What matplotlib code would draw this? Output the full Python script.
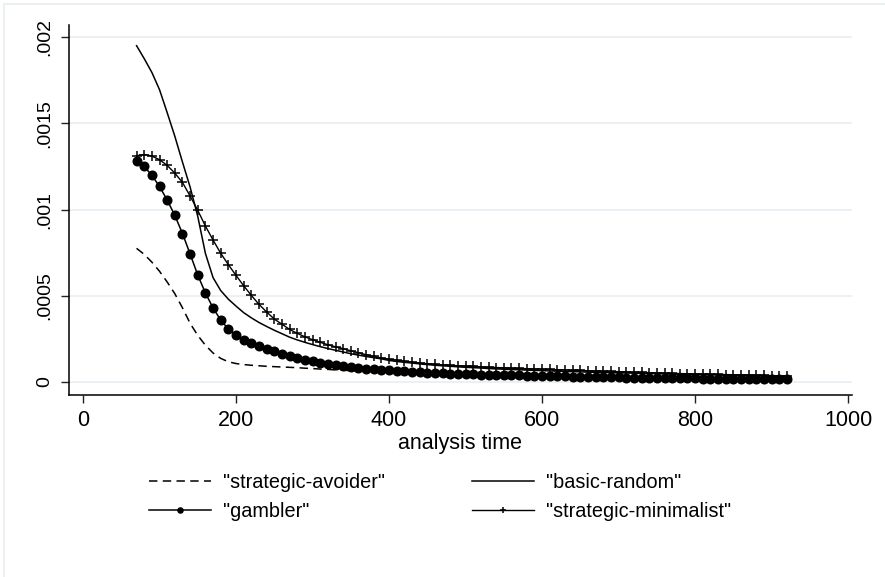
import matplotlib
matplotlib.use('Agg')
import matplotlib.pyplot as plt
from matplotlib.patches import Rectangle

plt.rcParams['font.family'] = ['Liberation Sans', 'DejaVu Sans']

# analysis time grid (one point every 10 units)
t = list(range(70, 930, 10))

# smoothed hazard estimates, in units of 1e-4
avoider = [7.75, 7.40, 6.95, 6.42, 5.80, 5.12, 4.30, 3.40, 2.70, 2.13,
           1.68, 1.37, 1.17, 1.07, 1.01, 0.97, 0.94, 0.91, 0.89, 0.87,
           0.85, 0.83, 0.80, 0.78, 0.75, 0.73, 0.70, 0.68, 0.66, 0.64,
           0.62, 0.60, 0.58, 0.56, 0.54, 0.52, 0.50, 0.49, 0.47, 0.46,
           0.44, 0.43, 0.42, 0.41, 0.40, 0.39, 0.38, 0.37, 0.36, 0.35,
           0.34, 0.33, 0.33, 0.32, 0.31, 0.30, 0.30, 0.29, 0.28, 0.28,
           0.27, 0.26, 0.26, 0.25, 0.25, 0.24, 0.24, 0.23, 0.23, 0.22,
           0.22, 0.21, 0.21, 0.20, 0.20, 0.19, 0.19, 0.19, 0.18, 0.18,
           0.17, 0.17, 0.17, 0.16, 0.16, 0.16]

basic_random = [19.50, 18.75, 17.95, 16.95, 15.62, 14.25, 12.75, 11.30, 9.60, 7.45,
                6.05, 5.30, 4.80, 4.40, 4.02, 3.72, 3.45, 3.22, 3.00, 2.80,
                2.60, 2.44, 2.30, 2.17, 2.05, 1.94, 1.84, 1.74, 1.64, 1.56,
                1.48, 1.41, 1.34, 1.25, 1.19, 1.14, 1.10, 1.05, 1.01, 0.97,
                0.94, 0.91, 0.88, 0.85, 0.83, 0.81, 0.78, 0.76, 0.74, 0.72,
                0.71, 0.69, 0.67, 0.66, 0.64, 0.63, 0.61, 0.60, 0.59, 0.57,
                0.56, 0.55, 0.54, 0.53, 0.52, 0.51, 0.50, 0.49, 0.48, 0.47,
                0.46, 0.45, 0.44, 0.43, 0.42, 0.41, 0.41, 0.40, 0.39, 0.38,
                0.37, 0.37, 0.36, 0.35, 0.34, 0.34]

gambler = [12.83, 12.50, 11.98, 11.34, 10.55, 9.66, 8.61, 7.42, 6.20, 5.16,
           4.29, 3.59, 3.07, 2.72, 2.45, 2.24, 2.06, 1.91, 1.77, 1.64,
           1.52, 1.40, 1.30, 1.21, 1.13, 1.06, 0.99, 0.93, 0.87, 0.82,
           0.78, 0.74, 0.70, 0.67, 0.64, 0.61, 0.58, 0.56, 0.54, 0.52,
           0.50, 0.48, 0.47, 0.45, 0.44, 0.43, 0.42, 0.41, 0.40, 0.39,
           0.38, 0.37, 0.36, 0.35, 0.34, 0.33, 0.32, 0.31, 0.31, 0.30,
           0.29, 0.28, 0.28, 0.27, 0.26, 0.26, 0.25, 0.24, 0.24, 0.23,
           0.22, 0.22, 0.21, 0.21, 0.20, 0.20, 0.19, 0.19, 0.18, 0.18,
           0.17, 0.17, 0.17, 0.16, 0.16, 0.15]

minimalist = [13.12, 13.19, 13.10, 12.89, 12.56, 12.11, 11.57, 10.78, 9.95, 9.04,
              8.23, 7.46, 6.80, 6.18, 5.58, 5.02, 4.50, 4.06, 3.65, 3.35,
              3.05, 2.82, 2.62, 2.45, 2.30, 2.16, 2.04, 1.93, 1.81, 1.70,
              1.58, 1.48, 1.39, 1.32, 1.26, 1.20, 1.15, 1.10, 1.06, 1.02,
              0.99, 0.96, 0.94, 0.92, 0.90, 0.88, 0.86, 0.84, 0.82, 0.80,
              0.79, 0.77, 0.76, 0.74, 0.73, 0.71, 0.70, 0.68, 0.67, 0.65,
              0.64, 0.62, 0.61, 0.60, 0.58, 0.57, 0.56, 0.54, 0.53, 0.52,
              0.50, 0.49, 0.48, 0.47, 0.46, 0.45, 0.44, 0.43, 0.42, 0.41,
              0.40, 0.39, 0.38, 0.37, 0.36, 0.35]

labels = ['"strategic-avoider"', '"basic-random"', '"gambler"', '"strategic-minimalist"']
yticks = [0, 0.0005, 0.001, 0.0015, 0.002]
yticklabels = ['0', '.0005', '.001', '.0015', '.002']
xticks = [0, 200, 400, 600, 800, 1000]

scale = 1e-4

fig = plt.figure(figsize=(8.85, 5.77), dpi=100)
fig.patches.append(Rectangle((4 / 885, -0.05), 1.1, 1 - 4 / 577 + 0.05,
                             transform=fig.transFigure, fill=False,
                             edgecolor='#e8edf0', linewidth=1.2, zorder=0))
ax = fig.add_axes([69 / 885, 1 - 395 / 577, (852 - 69) / 885, (395 - 25) / 577])

l_avoid, = ax.plot(t, [v * scale for v in avoider], color='black', lw=1.1,
                   dashes=(5.5, 3.5))
l_basic, = ax.plot(t, [v * scale for v in basic_random], color='black', lw=1.1)
l_gamb, = ax.plot(t, [v * scale for v in gambler], color='black', lw=1.1,
                  marker='o', markersize=6.2)
l_mini, = ax.plot(t, [v * scale for v in minimalist], color='black', lw=1.0,
                  marker='+', markersize=6.5, markeredgewidth=1.1)

ax.set_xlim(-18.3, 1005)
ax.set_ylim(-0.0000754, 0.00207)
ax.set_xticks(xticks)
ax.set_yticks(yticks)
ax.set_yticklabels(yticklabels, rotation=90, va='center')
ax.tick_params(axis='both', length=6, width=1, color='#222222')
ax.tick_params(axis='x', labelsize=15.5, pad=5)
ax.tick_params(axis='y', labelsize=14, pad=5)
ax.grid(axis='y', color='#e6eef1', linewidth=1.2)
ax.set_axisbelow(True)
for s in ['top', 'right']:
    ax.spines[s].set_visible(False)
for s in ['left', 'bottom']:
    ax.spines[s].set_linewidth(1.1)
ax.set_xlabel('analysis time', fontsize=15.5, labelpad=1)

leg = fig.legend([l_avoid, l_gamb, l_basic, l_mini],
                 [labels[0], labels[2], labels[1], labels[3]],
                 ncol=2, loc='center', bbox_to_anchor=(440 / 885, 1 - 497 / 577),
                 frameon=False, fontsize=14.3, handlelength=3.1,
                 handletextpad=0.6, columnspacing=4.4, labelspacing=0.5,
                 markerscale=0.6)

fig.savefig('out.png', dpi=100)
